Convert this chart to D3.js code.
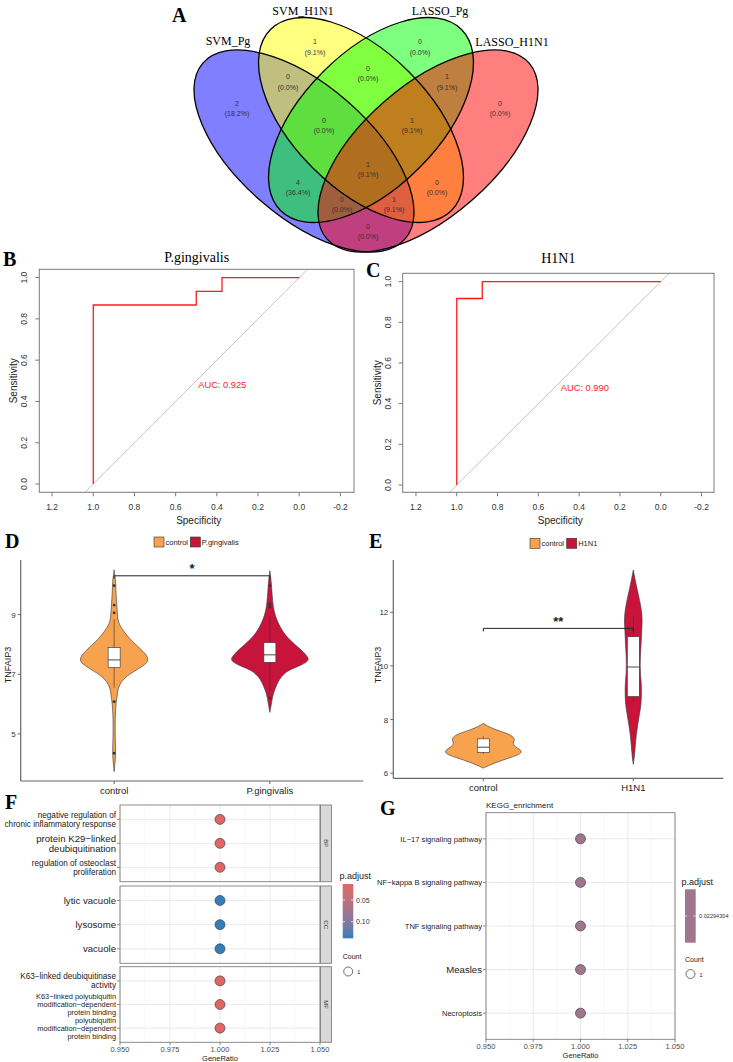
<!DOCTYPE html>
<html><head><meta charset="utf-8">
<script src="https://cdn.jsdelivr.net/npm/d3@7"></script>
<style>body{margin:0;background:#fff}</style>
</head><body><svg id="fig" width="733" height="1062"></svg>
<script>
// ================= DATA =================
const vennSetNames = ["SVM_Pg", "SVM_H1N1", "LASSO_Pg", "LASSO_H1N1"];
const vennRegionKeys = ["A","B","C","D","AB","BC","CD","ABC","BCD","ABCD","AC","BD","ACD","ABD","AD"];
const vennRegionCounts = [2,1,0,0,0,0,1,0,1,1,4,0,0,1,0];

const rocPgSpecificity = [1, 1, 0.5, 0.5, 0.375, 0.375, 0];
const rocPgSensitivity = [0, 0.867, 0.867, 0.933, 0.933, 1, 1];
const rocH1Specificity = [1, 1, 0.875, 0.875, 0];
const rocH1Sensitivity = [0, 0.917, 0.917, 1, 1];
const rocTitles = ["P.gingivalis", "H1N1"];
const rocAucLabels = ["AUC: 0.925", "AUC: 0.990"];
const rocXTicks = [1.2, 1.0, 0.8, 0.6, 0.4, 0.2, 0.0, -0.2];
const rocYTicks = [0, 0.2, 0.4, 0.6, 0.8, 1.0];

const pgGroups = ["control", "P.gingivalis"];
const h1Groups = ["control", "H1N1"];
// violin profiles: [TNFAIP3 value, relative density]
const pgControlProfile = [[10.50,0],[10.11,0.05],[9.78,0.05],[9.33,0.08],[8.88,0.10],[8.66,0.15],[8.43,0.29],[8.21,0.44],[7.99,0.64],[7.76,0.86],[7.59,0.98],[7.48,1.0],[7.37,0.96],[7.20,0.74],[7.03,0.49],[6.86,0.29],[6.64,0.15],[6.42,0.10],[6.19,0.08],[5.97,0.05],[5.52,0.03],[4.85,0.03],[4.40,0.05],[4.07,0.03],[3.73,0]];
const pgCaseProfile = [[10.47,0],[10.11,0.04],[9.78,0.06],[9.44,0.08],[9.11,0.12],[8.83,0.20],[8.61,0.29],[8.38,0.41],[8.21,0.54],[7.99,0.74],[7.76,0.98],[7.59,1.10],[7.51,1.14],[7.42,1.10],[7.31,0.93],[7.20,0.69],[7.09,0.49],[6.92,0.34],[6.75,0.24],[6.58,0.18],[6.42,0.12],[6.19,0.07],[5.97,0.04],[5.72,0]];
const h1ControlProfile = [[7.86,0],[7.74,0.15],[7.61,0.39],[7.49,0.69],[7.37,0.88],[7.24,0.93],[7.12,0.86],[6.99,0.93],[6.87,1.10],[6.78,1.13],[6.68,1.03],[6.56,0.74],[6.43,0.44],[6.31,0.20],[6.19,0]];
const h1CaseProfile = [[13.58,0],[13.16,0.06],[12.66,0.15],[12.29,0.21],[11.92,0.26],[11.55,0.26],[11.18,0.24],[10.80,0.23],[10.43,0.21],[10.06,0.20],[9.68,0.21],[9.31,0.24],[8.94,0.24],[8.56,0.23],[8.19,0.18],[7.82,0.13],[7.45,0.09],[7.07,0.06],[6.70,0.04],[6.33,0]];
const pgBoxStats = [
  {lower: 6.55, q1: 7.23, median: 7.48, q3: 7.89, upper: 8.85},
  {lower: 6.45, q1: 7.40, median: 7.65, q3: 8.06, upper: 8.95}];
const h1BoxStats = [
  {lower: 6.72, q1: 6.78, median: 6.97, q3: 7.28, upper: 7.37},
  {lower: 8.67, q1: 8.86, median: 9.96, q3: 11.09, upper: 11.84}];
const pgOutliers = [[9.97, 9.32, 9.06, 6.08, 4.35], [9.97, 9.35, 9.25, 6.20]];
const h1Outliers = [[], []];
const pgYTicks = [5, 7, 9];
const h1YTicks = [6, 8, 10, 12];
const pgSignif = {label: "*", y: 10.3};
const h1Signif = {label: "**", y: 11.4};

const goTerms = ["negative regulation of\nchronic inflammatory response", "protein K29\u2212linked\ndeubiquitination", "regulation of osteoclast\nproliferation",
  "lytic vacuole", "lysosome", "vacuole",
  "K63\u2212linked deubiquitinase\nactivity", "K63\u2212linked polyubiquitin\nmodification\u2212dependent\nprotein binding", "polyubiquitin\nmodification\u2212dependent\nprotein binding"];
const goOntology = ["BP","BP","BP","CC","CC","CC","MF","MF","MF"];
const goGeneRatio = [1,1,1,1,1,1,1,1,1];
const goPAdjust = [0.0131,0.0131,0.0131,0.138,0.138,0.138,0.0131,0.0131,0.0131];
const goCount = [1,1,1,1,1,1,1,1,1];
const goLegendTicks = [0.05, 0.10];

const keggTerms = ["IL\u221217 signaling pathway", "NF\u2212kappa B signaling pathway", "TNF signaling pathway", "Measles", "Necroptosis"];
const keggGeneRatio = [1,1,1,1,1];
const keggPAdjust = [0.02294304,0.02294304,0.02294304,0.02294304,0.02294304];
const keggCount = [1,1,1,1,1];
const ratioTicks = [0.950, 0.975, 1.000, 1.025, 1.050];

// ================= DRAWING =================
const svg = d3.select("#fig");
svg.append("rect").attr("width", 733).attr("height", 1062).attr("fill", "#fff");
const SANS = "'Liberation Sans', Arial, Helvetica, sans-serif";
const SERIF = "'Liberation Serif', 'Times New Roman', serif";

function txt(g, x, y, s, size, opts = {}) {
  return g.append("text").attr("x", x).attr("y", y).text(s)
    .attr("font-family", opts.family || SANS).attr("font-size", size)
    .attr("fill", opts.fill || "#000").attr("text-anchor", opts.anchor || "start")
    .attr("font-weight", opts.weight || "normal");
}
function letter(t, x, y) { txt(svg, x, y, t, 20, {family: SERIF, weight: "bold"}); }

// ---------- A: Venn ----------
letter("A", 172, 22);
const vennShapes = [
  {cx: 304, cy: 151, rx: 134, ry: 66, rot: 41, fill: "#0000ff"},
  {cx: 361, cy: 120, rx: 128, ry: 68, rot: 45, fill: "#ffff00"},
  {cx: 371, cy: 120, rx: 128, ry: 68, rot: -45, fill: "#00ff00"},
  {cx: 428, cy: 151, rx: 134, ry: 66, rot: -41, fill: "#ff0000"}];
const gV = svg.append("g");
vennShapes.forEach(e => gV.append("ellipse").attr("cx", e.cx).attr("cy", e.cy).attr("rx", e.rx).attr("ry", e.ry)
  .attr("transform", `rotate(${e.rot},${e.cx},${e.cy})`).attr("fill", e.fill).attr("fill-opacity", 0.5));
vennShapes.forEach(e => gV.append("ellipse").attr("cx", e.cx).attr("cy", e.cy).attr("rx", e.rx).attr("ry", e.ry)
  .attr("transform", `rotate(${e.rot},${e.cx},${e.cy})`).attr("fill", "none").attr("stroke", "#000").attr("stroke-width", 1.3));
const vennNamePos = [[228, 45], [303, 15], [440, 15], [512, 46]];
vennSetNames.forEach((n, i) => txt(gV, vennNamePos[i][0], vennNamePos[i][1], n, 12, {family: SERIF, anchor: "middle"}));
const vennLabelPos = {A:[237,108.5], B:[315,47], C:[420,47], D:[500,108.5], AB:[288,82], BC:[368,73.5], CD:[447,82],
  ABC:[324,125.5], BCD:[412,125.5], ABCD:[368,169.5], AC:[298,187.5], BD:[437,187.5], ACD:[342,204.5], ABD:[394,204.5], AD:[368,231.5]};
const vennTotal = d3.sum(vennRegionCounts);
vennRegionKeys.forEach((k, i) => {
  const [x, y] = vennLabelPos[k];
  txt(gV, x, y - 2.8, String(vennRegionCounts[i]), 7, {anchor: "middle", fill: "#333"});
  txt(gV, x, y + 7.8, `(${(vennRegionCounts[i] / vennTotal * 100).toFixed(1)}%)`, 7, {anchor: "middle", fill: "#333"});
});

// ---------- B, C: ROC ----------
function rocPanel(o) {
  const x = d3.scaleLinear().domain(o.xDom).range([o.left, o.right]);
  const y = d3.scaleLinear().domain(o.yDom).range([o.bottom, o.top]);
  const g = svg.append("g");
  const cid = "clip" + o.id;
  g.append("clipPath").attr("id", cid).append("rect").attr("x", o.left).attr("y", o.top)
    .attr("width", o.right - o.left).attr("height", o.bottom - o.top);
  g.append("line").attr("clip-path", `url(#${cid})`)
    .attr("x1", x(o.xDom[0])).attr("y1", y(1 - o.xDom[0])).attr("x2", x(o.xDom[1])).attr("y2", y(1 - o.xDom[1]))
    .attr("stroke", "#c4c4c4").attr("stroke-width", 1);
  const pts = o.spec.map((s, i) => [x(s), y(o.sens[i])]);
  g.append("path").attr("d", d3.line()(pts)).attr("fill", "none").attr("stroke", "#ff1a1a").attr("stroke-width", 1.3);
  g.append("rect").attr("x", o.left).attr("y", o.top).attr("width", o.right - o.left).attr("height", o.bottom - o.top)
    .attr("fill", "none").attr("stroke", "#7a7a7a").attr("stroke-width", 1);
  rocXTicks.forEach(t => {
    g.append("line").attr("x1", x(t)).attr("x2", x(t)).attr("y1", o.bottom).attr("y2", o.bottom + 4).attr("stroke", "#7a7a7a");
    txt(g, x(t), o.bottom + 17.5, t.toFixed(1), 8.5, {anchor: "middle", fill: "#333"});
  });
  rocYTicks.forEach(t => {
    g.append("line").attr("x1", o.left - 4).attr("x2", o.left).attr("y1", y(t)).attr("y2", y(t)).attr("stroke", "#7a7a7a");
    txt(g, 0, 0, t.toFixed(1), 8.5, {anchor: "middle", fill: "#333"})
      .attr("transform", `translate(${o.left - 12},${y(t)}) rotate(-90)`);
  });
  txt(g, (o.left + o.right) / 2 + 2, o.bottom + 32, "Specificity", 10, {anchor: "middle", fill: "#222"});
  txt(g, 0, 0, "Sensitivity", 10, {anchor: "middle", fill: "#222"})
    .attr("transform", `translate(${o.left - 22},${(o.top + o.bottom) / 2}) rotate(-90)`);
  txt(g, (o.left + o.right) / 2, o.titleY, o.title, 14, {anchor: "middle", family: SERIF});
  txt(g, x(0.5) + 2, y(0.5) + 7.5, o.auc, 9.3, {fill: "#ff1a1a"});
}
letter("B", 3, 266);
rocPanel({id: "b", left: 39.3, right: 354, top: 269.3, bottom: 492.3, xDom: [1.262, -0.266], yDom: [-0.04, 1.04],
  spec: rocPgSpecificity, sens: rocPgSensitivity, title: rocTitles[0], auc: rocAucLabels[0], titleY: 262});
letter("C", 366, 277);
rocPanel({id: "c", left: 402.7, right: 714, top: 273.3, bottom: 492.3, xDom: [1.265, -0.261], yDom: [-0.036, 1.041],
  spec: rocH1Specificity, sens: rocH1Sensitivity, title: rocTitles[1], auc: rocAucLabels[1], titleY: 263});

// ---------- D, E: violins ----------
const violinFill = ["#F6A24E", "#C8133B"];
function violinPanel(o) {
  const g = svg.append("g");
  const x = d3.scalePoint().domain(o.groups).range([o.left, o.right]).padding(0.6);
  const y = d3.scaleLinear().domain(o.yDom).range([o.bottom, o.top]);
  const w = d3.scaleLinear().domain([0, 1]).range([0, 34]);
  o.profiles.forEach((prof, i) => {
    const cx = x(o.groups[i]);
    const area = d3.area().curve(d3.curveBasis).y(d => y(d[0])).x0(d => cx - w(d[1])).x1(d => cx + w(d[1]));
    g.append("path").attr("d", area(prof)).attr("fill", violinFill[i]).attr("stroke", "#333").attr("stroke-width", 0.6);
    const b = o.box[i], bw = 6;
    g.append("line").attr("x1", cx).attr("x2", cx).attr("y1", y(b.upper)).attr("y2", y(b.lower)).attr("stroke", "#333").attr("stroke-width", 0.6);
    g.append("rect").attr("x", cx - bw).attr("width", 2 * bw).attr("y", y(b.q3)).attr("height", y(b.q1) - y(b.q3))
      .attr("fill", "#fff").attr("stroke", "#333").attr("stroke-width", 0.6);
    g.append("line").attr("x1", cx - bw).attr("x2", cx + bw).attr("y1", y(b.median)).attr("y2", y(b.median)).attr("stroke", "#333").attr("stroke-width", 0.9);
    o.outliers[i].forEach(v => g.append("circle").attr("cx", cx).attr("cy", y(v)).attr("r", 1.4).attr("fill", "#333"));
  });
  g.append("line").attr("x1", o.left).attr("x2", o.left).attr("y1", o.top).attr("y2", o.bottom).attr("stroke", "#666").attr("stroke-width", 1.2);
  g.append("line").attr("x1", o.left).attr("x2", o.right).attr("y1", o.bottom).attr("y2", o.bottom).attr("stroke", "#666").attr("stroke-width", 1.2);
  o.yTicks.forEach(t => {
    g.append("line").attr("x1", o.left - 3).attr("x2", o.left).attr("y1", y(t)).attr("y2", y(t)).attr("stroke", "#666");
    txt(g, o.left - 5, y(t) + 3, String(t), 8, {anchor: "end", fill: "#333"});
  });
  o.groups.forEach(gr => {
    g.append("line").attr("x1", x(gr)).attr("x2", x(gr)).attr("y1", o.bottom).attr("y2", o.bottom + 3).attr("stroke", "#666");
    txt(g, x(gr), o.bottom + 12.5, gr, 9.5, {anchor: "middle", fill: "#222"});
  });
  txt(g, 0, 0, "TNFAIP3", 9, {anchor: "middle", fill: "#222"}).attr("transform", `translate(${o.yLabX},665) rotate(-90)`);
  const sy = y(o.signif.y), x1 = x(o.groups[0]), x2 = x(o.groups[1]);
  g.append("path").attr("d", `M${x1},${sy + 3}V${sy}H${x2}V${sy + 3}`).attr("fill", "none").attr("stroke", "#222").attr("stroke-width", 1);
  txt(g, (x1 + x2) / 2, sy - 2.5, o.signif.label, 13, {anchor: "middle", fill: "#222", weight: "bold"});
  o.groups.forEach((gr, i) => {
    g.append("rect").attr("x", o.legX[i]).attr("y", o.legY).attr("width", 10).attr("height", 10)
      .attr("fill", violinFill[i]).attr("stroke", "#333").attr("stroke-width", 0.6);
    txt(g, o.legX[i] + 11.5, o.legY + 8, gr, 7.5, {fill: "#222"});
  });
}
letter("D", 5, 548);
violinPanel({left: 20.7, right: 363.3, top: 560, bottom: 781, yDom: [3.42, 10.83], groups: pgGroups,
  profiles: [pgControlProfile, pgCaseProfile], box: pgBoxStats, outliers: pgOutliers, yTicks: pgYTicks,
  signif: pgSignif, yLabX: 11, legX: [154, 190.3], legY: 537});
letter("E", 369, 548);
violinPanel({left: 393.3, right: 723.3, top: 560, bottom: 778.3, yDom: [5.81, 13.95], groups: h1Groups,
  profiles: [h1ControlProfile, h1CaseProfile], box: h1BoxStats, outliers: h1Outliers, yTicks: h1YTicks,
  signif: h1Signif, yLabX: 381, legX: [530, 566.7], legY: 538.3});

// ---------- F, G: dot plots ----------
const lowCol = "#e06663", highCol = "#327eba";
const bigLabels = new Set(["protein K29\u2212linked\ndeubiquitination", "lytic vacuole", "lysosome", "vacuole", "Measles"]);
function gridAndPoints(g, x, left, right, top, bottom, terms, ratios, colors, baseFs) {
  const y = d3.scalePoint().domain(terms).range([top, bottom]).padding(0.6);
  const minor = d3.pairs(ratioTicks).map(p => (p[0] + p[1]) / 2);
  minor.forEach(t => g.append("line").attr("x1", x(t)).attr("x2", x(t)).attr("y1", top).attr("y2", bottom).attr("stroke", "#f3f3f3").attr("stroke-width", 0.6));
  ratioTicks.forEach(t => g.append("line").attr("x1", x(t)).attr("x2", x(t)).attr("y1", top).attr("y2", bottom).attr("stroke", "#e8e8e8").attr("stroke-width", 0.9));
  terms.forEach(t => g.append("line").attr("x1", left).attr("x2", right).attr("y1", y(t)).attr("y2", y(t)).attr("stroke", "#e8e8e8").attr("stroke-width", 0.9));
  terms.forEach((t, i) => {
    g.append("circle").attr("cx", x(ratios[i])).attr("cy", y(t)).attr("r", 5).attr("fill", colors[i]).attr("stroke", "#333").attr("stroke-width", 0.6);
    const lines = t.split("\n");
    let fs = bigLabels.has(t) ? 9.6 : baseFs, lh = fs * 1.08;
    if (lines.length > 2) { fs = 7.4; lh = 8.1; }
    lines.forEach((ln, j) => txt(g, left - 4, y(t) + (j - (lines.length - 1) / 2) * lh + fs * 0.35, ln, fs, {anchor: "end", fill: "#222"}));
    g.append("line").attr("x1", left - 3).attr("x2", left).attr("y1", y(t)).attr("y2", y(t)).attr("stroke", "#444").attr("stroke-width", 0.6);
  });
  g.append("rect").attr("x", left).attr("y", top).attr("width", right - left).attr("height", bottom - top)
    .attr("fill", "none").attr("stroke", "#7f7f7f").attr("stroke-width", 0.9);
}
function xAxisRatio(g, x, bottom, cx) {
  ratioTicks.forEach(t => {
    g.append("line").attr("x1", x(t)).attr("x2", x(t)).attr("y1", bottom).attr("y2", bottom + 3).attr("stroke", "#444").attr("stroke-width", 0.6);
    txt(g, x(t), bottom + 10, t.toFixed(3), 7.5, {anchor: "middle", fill: "#4d4d4d"});
  });
  txt(g, cx, bottom + 19, "GeneRatio", 7.5, {anchor: "middle", fill: "#222"});
}
function countLegend(g, x, y) {
  txt(g, x, y, "Count", 7, {fill: "#222"});
  g.append("circle").attr("cx", x + 5.5).attr("cy", y + 12.5).attr("r", 4.5).attr("fill", "none").attr("stroke", "#333").attr("stroke-width", 0.7);
  txt(g, x + 14.5, y + 15, String(1), 5.5, {fill: "#222"});
}

// F
letter("F", 5, 809);
{
  const g = svg.append("g");
  const left = 120, right = 320;
  const x = d3.scaleLinear().domain([0.95, 1.05]).range([left, right]);
  const pExt = d3.extent(goPAdjust);
  const col = d3.scaleLinear().domain(pExt).range([lowCol, highCol]).interpolate(d3.interpolateLab);
  const facetBounds = {BP: [805, 881.7], CC: [886, 963.3], MF: [966.7, 1042.3]};
  ["BP", "CC", "MF"].forEach(f => {
    const idx = goOntology.map((o, i) => o === f ? i : -1).filter(i => i >= 0);
    const [top, bottom] = facetBounds[f];
    gridAndPoints(g, x, left, right, top, bottom, idx.map(i => goTerms[i]), idx.map(i => goGeneRatio[i]), idx.map(i => col(goPAdjust[i])), 8.2);
    g.append("rect").attr("x", right + 0.5).attr("y", top).attr("width", 11).attr("height", bottom - top)
      .attr("fill", "#d9d9d9").attr("stroke", "#7f7f7f").attr("stroke-width", 0.9);
    txt(g, 0, 0, f, 6, {anchor: "middle", fill: "#333"}).attr("transform", `translate(${right + 4},${(top + bottom) / 2}) rotate(90)`);
  });
  xAxisRatio(g, x, 1042.3, 220);
  txt(g, 339.5, 879, "p.adjust", 9, {fill: "#222"});
  const barTop = 884, barBot = 938.3;
  const ly = d3.scaleLinear().domain(pExt).range([barTop, barBot]);
  const grad = svg.append("defs").append("linearGradient").attr("id", "gradF").attr("x1", 0).attr("x2", 0).attr("y1", 0).attr("y2", 1);
  d3.range(0, 1.0001, 0.1).forEach(t => grad.append("stop").attr("offset", t).attr("stop-color", d3.interpolateLab(lowCol, highCol)(t)));
  g.append("rect").attr("x", 342.7).attr("y", barTop).attr("width", 10.6).attr("height", barBot - barTop).attr("fill", "url(#gradF)");
  goLegendTicks.forEach(t => {
    g.append("line").attr("x1", 342.7).attr("x2", 345).attr("y1", ly(t)).attr("y2", ly(t)).attr("stroke", "#fff").attr("stroke-width", 0.7);
    g.append("line").attr("x1", 351).attr("x2", 353.3).attr("y1", ly(t)).attr("y2", ly(t)).attr("stroke", "#fff").attr("stroke-width", 0.7);
    txt(g, 356, ly(t) + 2.5, t.toFixed(2), 7, {fill: "#333"});
  });
  countLegend(g, 342.7, 959);
}

// G
letter("G", 380, 815);
{
  const g = svg.append("g");
  const left = 486, right = 675, top = 812.7, bottom = 1039.3;
  const x = d3.scaleLinear().domain([0.95, 1.05]).range([left, right]);
  const single = d3.interpolateLab(lowCol, highCol)(0.5);
  gridAndPoints(g, x, left, right, top, bottom, keggTerms, keggGeneRatio, keggPAdjust.map(() => single), 7.6);
  xAxisRatio(g, x, bottom, (left + right) / 2);
  txt(g, left, 808, "KEGG_enrichment", 8, {fill: "#222"});
  txt(g, 681.5, 884.5, "p.adjust", 9, {fill: "#222"});
  g.append("rect").attr("x", 685).attr("y", 889.3).attr("width", 10.7).attr("height", 53.4).attr("fill", single);
  g.append("line").attr("x1", 685).attr("x2", 687.3).attr("y1", 916).attr("y2", 916).attr("stroke", "#fff").attr("stroke-width", 0.7);
  g.append("line").attr("x1", 693.4).attr("x2", 695.7).attr("y1", 916).attr("y2", 916).attr("stroke", "#fff").attr("stroke-width", 0.7);
  txt(g, 699, 918, String(keggPAdjust[0]), 5.6, {fill: "#333"});
  countLegend(g, 685, 961.5);
}
</script></body></html>
